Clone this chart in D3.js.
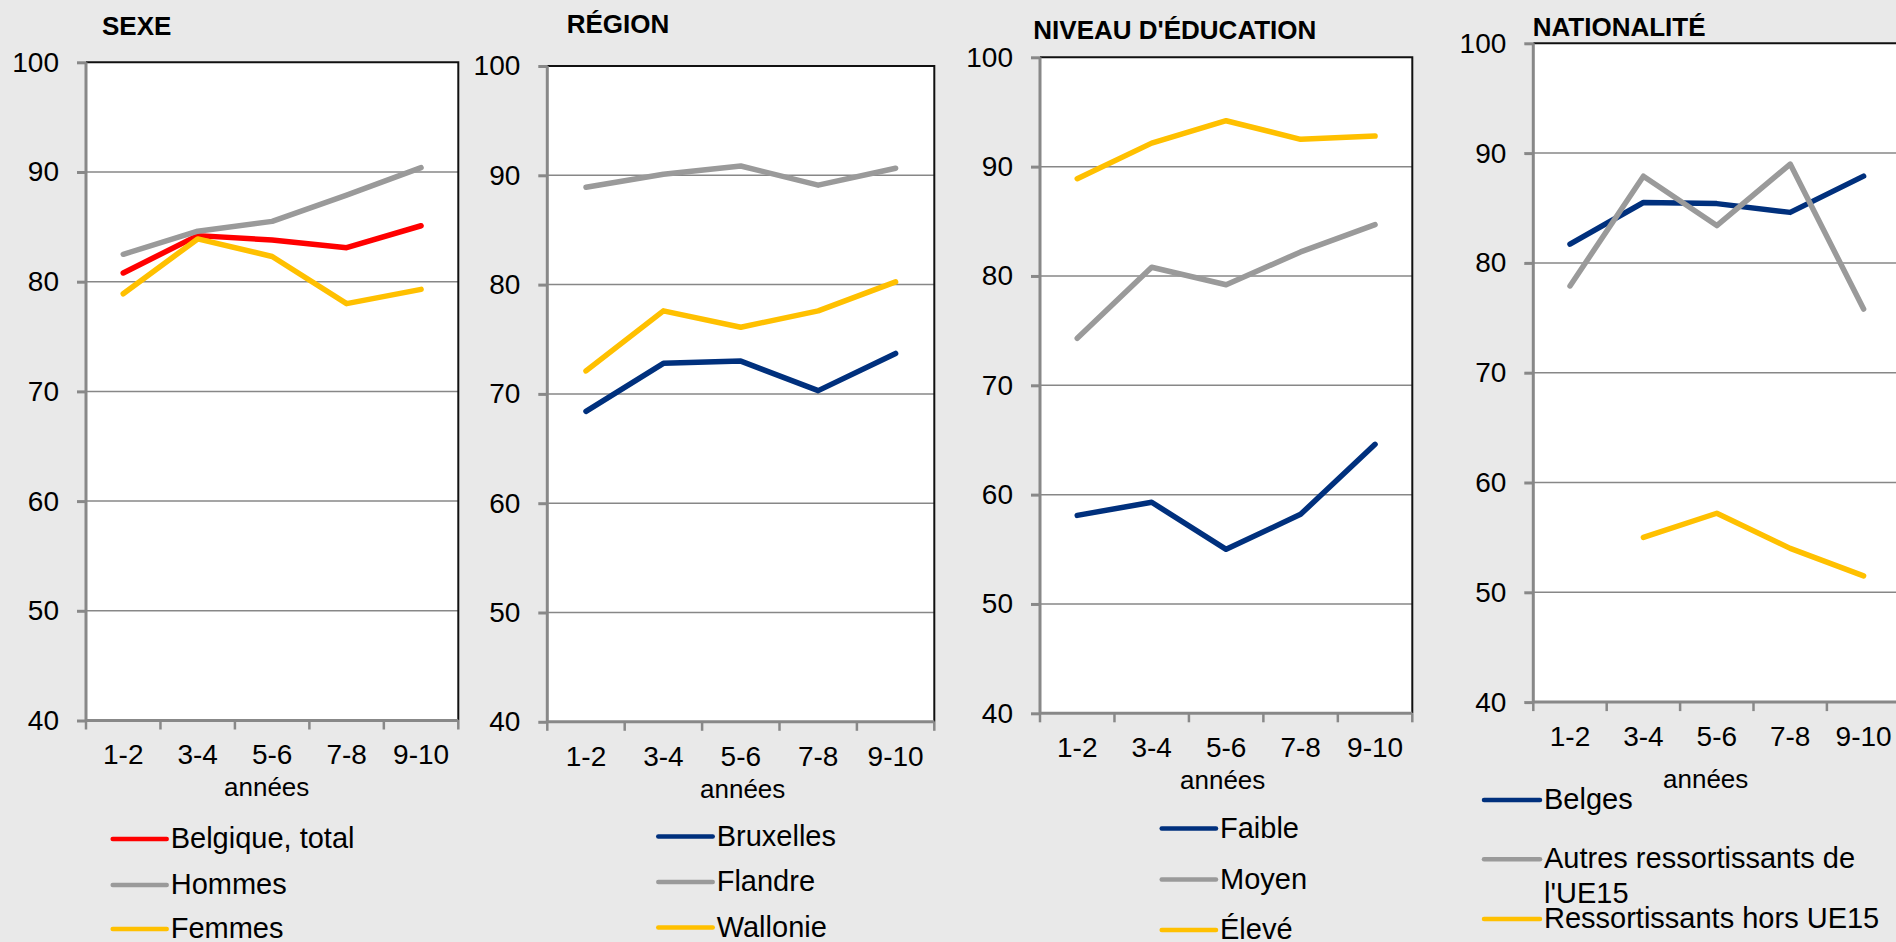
<!DOCTYPE html>
<html>
<head>
<meta charset="utf-8">
<script src="https://cdn.jsdelivr.net/npm/d3@7"></script>
<style>
  body { margin: 0; background: #e9e9e9; }
  svg { display: block; font-family: "Liberation Sans", Arial, sans-serif; }
  .title { font-weight: bold; font-size: 26px; fill: #000; }
  .tick text { font-size: 28px; fill: #000; }
  .labeltext { font-size: 26px; fill: #000; }
  .legendtext { font-size: 29px; fill: #000; }
</style>
</head>
<body>
<script>
/*
 * Four small line charts side by side, one per breakdown.
 * */

// categories and y ticks
var categories = ["1-2", "3-4", "5-6", "7-8", "9-10"];
var yTicks = [40, 50, 60, 70, 80, 90, 100];

// SEXE
var sexeBelgique = [80.8, 84.2, 83.8, 83.1, 85.1];
var sexeHommes = [82.5, 84.6, 85.5, 87.9, 90.4];
var sexeFemmes = [78.9, 83.9, 82.3, 78.0, 79.3];

// RÉGION
var regionBruxelles = [68.4, 72.8, 73.0, 70.3, 73.7];
var regionFlandre = [88.9, 90.1, 90.85, 89.1, 90.65];
var regionWallonie = [72.1, 77.6, 76.1, 77.6, 80.25];

// NIVEAU D'ÉDUCATION
var eduFaible = [58.1, 59.3, 55.0, 58.2, 64.6];
var eduMoyen = [74.3, 80.8, 79.2, 82.2, 84.7];
var eduEleve = [88.9, 92.15, 94.2, 92.5, 92.8];

// NATIONALITÉ
var natBelges = [81.7, 85.5, 85.4, 84.6, 87.9];
var natAutresUE15 = [77.9, 87.9, 83.4, 89.0, 75.8];
var natHorsUE15 = [null, 55.0, 57.2, 54.0, 51.5];

var RED = "#ff0000", GREY = "#9a9a9a", GOLD = "#ffc000", NAVY = "#00307d";

var panels = [
  { title: "SEXE", left: 86, right: 458.3, top: 62.3, bottom: 720.5,
    titleX: 102, titleY: 35, anneesX: 266.7, anneesY: 796,
    legX: 112.7, legW: 54, legY: [839, 885, 929],
    series: [
      { name: ["Belgique, total"], values: sexeBelgique, color: RED },
      { name: ["Hommes"], values: sexeHommes, color: GREY },
      { name: ["Femmes"], values: sexeFemmes, color: GOLD }
    ] },
  { title: "RÉGION", left: 547.3, right: 934.3, top: 66, bottom: 721.8,
    titleX: 566.7, titleY: 33.3, anneesX: 742.7, anneesY: 797.8,
    legX: 658.3, legW: 54.4, legY: [836.5, 882, 927.5],
    series: [
      { name: ["Bruxelles"], values: regionBruxelles, color: NAVY },
      { name: ["Flandre"], values: regionFlandre, color: GREY },
      { name: ["Wallonie"], values: regionWallonie, color: GOLD }
    ] },
  { title: "NIVEAU D'ÉDUCATION", left: 1040, right: 1412.3, top: 57.3, bottom: 713.3,
    titleX: 1033.3, titleY: 39.3, anneesX: 1222.7, anneesY: 789.1,
    legX: 1161.7, legW: 54.3, legY: [828.5, 879.5, 930],
    series: [
      { name: ["Faible"], values: eduFaible, color: NAVY },
      { name: ["Moyen"], values: eduMoyen, color: GREY },
      { name: ["Élevé"], values: eduEleve, color: GOLD }
    ] },
  { title: "NATIONALITÉ", left: 1533.3, right: 1900.3, top: 43.3, bottom: 702.1,
    titleX: 1532.7, titleY: 36, anneesX: 1705.7, anneesY: 788,
    legX: 1484, legW: 56, legY: [800, 859.3, 919],
    series: [
      { name: ["Belges"], values: natBelges, color: NAVY },
      { name: ["Autres ressortissants de", "l'UE15"], values: natAutresUE15, color: GREY },
      { name: ["Ressortissants hors UE15"], values: natHorsUE15, color: GOLD }
    ] }
];

var svg = d3.select("body").append("svg")
    .attr("width", 1896)
    .attr("height", 942);

svg.append("rect")
    .attr("width", 1896)
    .attr("height", 942)
    .attr("fill", "#e9e9e9");

panels.forEach(function(p) {
  var x = d3.scaleBand().domain(categories).range([p.left, p.right]);
  var y = d3.scaleLinear().domain([40, 100]).range([p.bottom, p.top]);
  var g = svg.append("g");

  // plot area
  g.append("rect")
      .attr("x", p.left).attr("y", p.top)
      .attr("width", p.right - p.left).attr("height", p.bottom - p.top)
      .attr("fill", "#fff");

  // gridlines
  g.selectAll(".grid")
      .data(yTicks.slice(1, -1))
    .enter().append("line")
      .attr("x1", p.left).attr("x2", p.right)
      .attr("y1", function(d) { return y(d); })
      .attr("y2", function(d) { return y(d); })
      .attr("stroke", "#878787")
      .attr("stroke-width", 1.5);

  // top and right border
  g.append("path")
      .attr("d", "M" + p.left + "," + p.top + "H" + p.right + "V" + p.bottom)
      .attr("fill", "none")
      .attr("stroke", "#111")
      .attr("stroke-width", 2);

  // Y axis
  var ya = g.append("g")
      .attr("transform", "translate(" + p.left + ",0)")
      .call(d3.axisLeft(y).tickValues(yTicks).tickSize(9).tickPadding(18));
  ya.selectAll("line, path").attr("stroke", "#888").attr("stroke-width", 3);
  ya.select(".domain").attr("d", "M0," + y(40) + "V" + y(100));
  ya.selectAll("text").attr("font-family", null).attr("font-size", null);

  // X axis: labels centred in bands, ticks on band edges
  var xa = g.append("g")
      .attr("transform", "translate(0," + p.bottom + ")")
      .call(d3.axisBottom(x).tickSize(0).tickPadding(24));
  xa.select(".domain").attr("d", "M" + p.left + ",0H" + p.right)
      .attr("stroke", "#888").attr("stroke-width", 3);
  xa.selectAll("text").attr("font-family", null).attr("font-size", null);

  var edges = categories.map(function(c) { return x(c); }).concat([p.right]);
  g.selectAll(".xtick")
      .data(edges)
    .enter().append("line")
      .attr("x1", function(d) { return d; })
      .attr("x2", function(d) { return d; })
      .attr("y1", p.bottom).attr("y2", p.bottom + 9)
      .attr("stroke", "#888")
      .attr("stroke-width", 2.5);

  // series lines
  var line = d3.line()
      .defined(function(d) { return d != null; })
      .x(function(d, i) { return x(categories[i]) + x.bandwidth() / 2; })
      .y(function(d) { return y(d); });

  p.series.forEach(function(s) {
    g.append("path")
        .datum(s.values)
        .attr("d", line)
        .attr("fill", "none")
        .attr("stroke", s.color)
        .attr("stroke-width", 5.5)
        .attr("stroke-linejoin", "round")
        .attr("stroke-linecap", "round");
  });

  // title and axis label
  g.append("text")
      .attr("class", "title")
      .attr("x", p.titleX).attr("y", p.titleY)
      .text(p.title);
  g.append("text")
      .attr("class", "labeltext")
      .attr("x", p.anneesX).attr("y", p.anneesY)
      .style("text-anchor", "middle")
      .text("années");

  // legend
  p.series.forEach(function(s, i) {
    var ly = p.legY[i];
    g.append("line")
        .attr("x1", p.legX).attr("x2", p.legX + p.legW)
        .attr("y1", ly).attr("y2", ly)
        .attr("stroke", s.color)
        .attr("stroke-width", 4.5)
        .attr("stroke-linecap", "round");
    var t = g.append("text")
        .attr("class", "legendtext")
        .attr("x", p.legX + p.legW + 4)
        .attr("y", ly + 9);
    s.name.forEach(function(part, j) {
      t.append("tspan")
          .attr("x", p.legX + p.legW + 4)
          .attr("dy", j === 0 ? 0 : 34.4)
          .text(part);
    });
  });
});
</script>
</body>
</html>
